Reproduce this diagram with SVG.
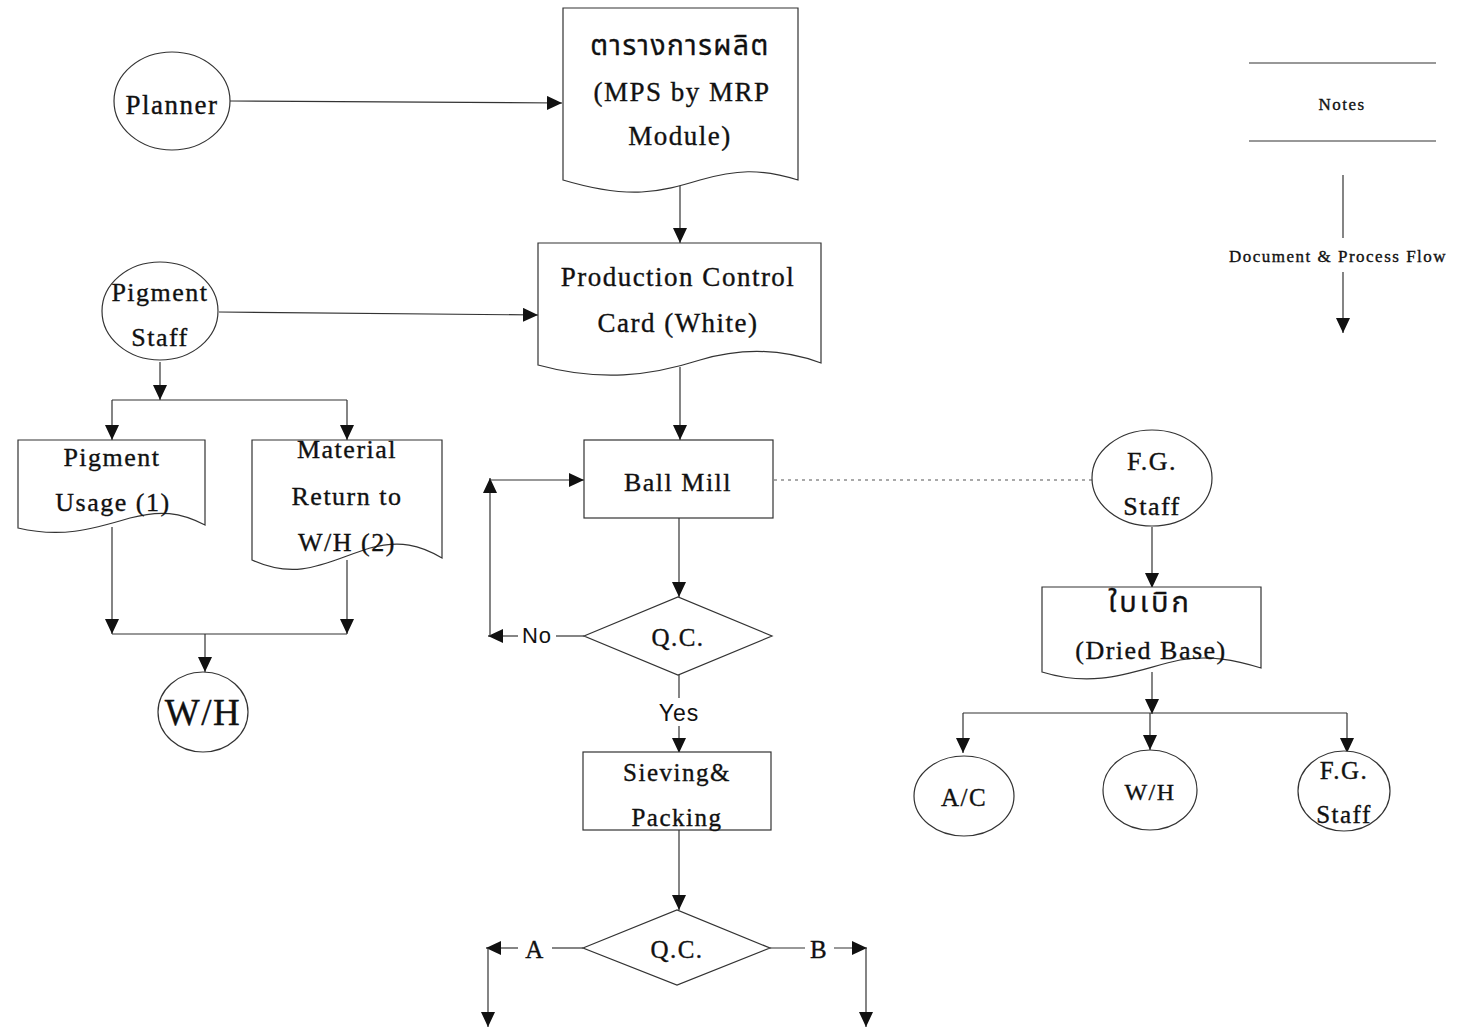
<svg xmlns="http://www.w3.org/2000/svg" width="1463" height="1030" viewBox="0 0 1463 1030">
  <style>
    .shape { fill: #ffffff; stroke: #333333; stroke-width: 1.2; }
    .line { fill: none; stroke: #333333; stroke-width: 1.2; }
    .dot { fill: none; stroke: #555555; stroke-width: 1.1; stroke-dasharray: 3 4; }
    .t { font-family: "Liberation Serif", "Times New Roman", serif; fill: #111111; stroke: #111111; stroke-width: 0.35; text-anchor: middle; letter-spacing: 1.5px; }
    .th { font-family: "Liberation Serif", "Noto Sans Thai", "Noto Serif Thai", "DejaVu Sans", serif; fill: #111111; stroke: #111111; stroke-width: 0.3; text-anchor: middle; }
    .s { font-family: "Liberation Sans", Arial, sans-serif; fill: #111111; text-anchor: middle; }
  </style>
  <defs>
    <marker id="arr" markerWidth="16" markerHeight="14" refX="15" refY="7" orient="auto" markerUnits="userSpaceOnUse">
      <path d="M0,0 L15,7 L0,14 Z" fill="#111111"/>
    </marker>
  </defs>
  <rect width="1463" height="1030" fill="#ffffff"/>

  <!-- connectors -->
  <g id="connectors">
    <line class="line" x1="230" y1="101" x2="562" y2="103" marker-end="url(#arr)"/>
    <line class="line" x1="680" y1="182" x2="680" y2="243" marker-end="url(#arr)"/>
    <line class="line" x1="219" y1="312" x2="538" y2="315" marker-end="url(#arr)"/>
    <line class="line" x1="160" y1="362" x2="160" y2="400" marker-end="url(#arr)"/>
    <line class="line" x1="112" y1="400" x2="347" y2="400"/>
    <line class="line" x1="112" y1="400" x2="112" y2="440" marker-end="url(#arr)"/>
    <line class="line" x1="347" y1="400" x2="347" y2="440" marker-end="url(#arr)"/>
    <line class="line" x1="112" y1="527" x2="112" y2="634" marker-end="url(#arr)"/>
    <line class="line" x1="347" y1="560" x2="347" y2="634" marker-end="url(#arr)"/>
    <line class="line" x1="112" y1="634" x2="347" y2="634"/>
    <line class="line" x1="205" y1="634" x2="205" y2="672" marker-end="url(#arr)"/>
    <line class="line" x1="680" y1="367" x2="680" y2="440" marker-end="url(#arr)"/>
    <line class="dot" x1="774" y1="480" x2="1093" y2="480"/>
    <line class="line" x1="679" y1="518" x2="679" y2="597" marker-end="url(#arr)"/>
    <!-- QC reject loop -->
    <line class="line" x1="584" y1="636" x2="556" y2="636"/>
    <line class="line" x1="518" y1="636" x2="488" y2="636" marker-end="url(#arr)"/>
    <line class="line" x1="490" y1="636" x2="490" y2="478" marker-end="url(#arr)"/>
    <line class="line" x1="490" y1="480" x2="584" y2="480" marker-end="url(#arr)"/>
    <text class="s" x="537" y="643" font-size="22" letter-spacing="1">No</text>
    <!-- QC accept -->
    <line class="line" x1="679" y1="674" x2="679" y2="698"/>
    <line class="line" x1="679" y1="726" x2="679" y2="753" marker-end="url(#arr)"/>
    <text class="s" x="679" y="721" font-size="23" letter-spacing="1">Yes</text>
    <line class="line" x1="679" y1="830" x2="679" y2="910" marker-end="url(#arr)"/>
    <!-- final QC branches -->
    <line class="line" x1="583" y1="948" x2="552" y2="948"/>
    <line class="line" x1="518" y1="948" x2="486" y2="948" marker-end="url(#arr)"/>
    <line class="line" x1="488" y1="948" x2="488" y2="1027" marker-end="url(#arr)"/>
    <text class="t" x="535" y="958" font-size="25">A</text>
    <line class="line" x1="770" y1="948" x2="805" y2="948"/>
    <line class="line" x1="834" y1="948" x2="867" y2="948" marker-end="url(#arr)"/>
    <line class="line" x1="866" y1="948" x2="866" y2="1027" marker-end="url(#arr)"/>
    <text class="t" x="819" y="958" font-size="25">B</text>
    <!-- finished goods branch -->
    <line class="line" x1="1152" y1="527" x2="1152" y2="588" marker-end="url(#arr)"/>
    <line class="line" x1="1152" y1="672" x2="1152" y2="714" marker-end="url(#arr)"/>
    <line class="line" x1="963" y1="713" x2="1347" y2="713"/>
    <line class="line" x1="963" y1="713" x2="963" y2="753" marker-end="url(#arr)"/>
    <line class="line" x1="1150" y1="713" x2="1150" y2="750" marker-end="url(#arr)"/>
    <line class="line" x1="1347" y1="713" x2="1347" y2="753" marker-end="url(#arr)"/>
  </g>

  <!-- actors -->
  <g id="planner">
    <ellipse class="shape" cx="172" cy="101" rx="58" ry="49"/>
    <text class="t" x="172" y="114" font-size="27">Planner</text>
  </g>
  <g id="pigment-staff">
    <ellipse class="shape" cx="160" cy="311" rx="58" ry="49"/>
    <text class="t" x="160" y="301" font-size="26" letter-spacing="2">Pigment</text>
    <text class="t" x="160" y="346" font-size="26" letter-spacing="2">Staff</text>
  </g>
  <g id="wh-left">
    <ellipse class="shape" cx="203" cy="712" rx="45" ry="40"/>
    <text class="t" x="203" y="725" font-size="37" letter-spacing="3">W/H</text>
  </g>
  <g id="fg-staff">
    <ellipse class="shape" cx="1152" cy="478" rx="60" ry="48"/>
    <text class="t" x="1152" y="470" font-size="26" letter-spacing="2.5">F.G.</text>
    <text class="t" x="1152" y="515" font-size="26" letter-spacing="2.5">Staff</text>
  </g>
  <g id="ac">
    <ellipse class="shape" cx="964" cy="796" rx="50" ry="40"/>
    <text class="t" x="964" y="806" font-size="25" letter-spacing="3">A/C</text>
  </g>
  <g id="wh-right">
    <ellipse class="shape" cx="1150" cy="790" rx="47" ry="40"/>
    <text class="t" x="1150" y="800" font-size="24" letter-spacing="4">W/H</text>
  </g>
  <g id="fg-staff-2">
    <ellipse class="shape" cx="1344" cy="791" rx="46" ry="40"/>
    <text class="t" x="1344" y="779" font-size="25" letter-spacing="2">F.G.</text>
    <text class="t" x="1344" y="823" font-size="25" letter-spacing="2">Staff</text>
  </g>

  <!-- documents -->
  <g id="mps-doc">
    <path class="shape" d="M563,8 L798,8 L798,180 C760,168 735,170 700,180 C660,192 630,200 563,180 Z"/>
    <text class="th" x="680" y="55" font-size="28" letter-spacing="1.5">ตารางการผลิต</text>
    <text class="t" x="682" y="101" font-size="27">(MPS by MRP</text>
    <text class="t" x="680" y="145" font-size="27">Module)</text>
  </g>
  <g id="control-card">
    <path class="shape" d="M538,243 L821,243 L821,363 C780,348 740,348 700,360 C650,376 600,382 538,365 Z"/>
    <text class="t" x="678" y="286" font-size="27">Production Control</text>
    <text class="t" x="678" y="332" font-size="27">Card (White)</text>
  </g>
  <g id="pigment-usage">
    <path class="shape" d="M18,440 L205,440 L205,525 C180,512 160,510 130,518 C90,530 60,538 18,528 Z"/>
    <text class="t" x="112" y="466" font-size="26" letter-spacing="2">Pigment</text>
    <text class="t" x="113" y="511" font-size="26" letter-spacing="2">Usage (1)</text>
  </g>
  <g id="material-return">
    <path class="shape" d="M252,440 L442,440 L442,558 C420,545 400,540 370,548 C330,560 300,582 252,560 Z"/>
    <text class="t" x="347" y="458" font-size="26" letter-spacing="2">Material</text>
    <text class="t" x="347" y="505" font-size="26" letter-spacing="2">Return to</text>
    <text class="t" x="347" y="551" font-size="26" letter-spacing="2">W/H (2)</text>
  </g>
  <g id="dried-base-doc">
    <path class="shape" d="M1042,587 L1261,587 L1261,668 C1235,660 1210,655 1180,660 C1140,668 1100,690 1042,672 Z"/>
    <text class="th" x="1150" y="612" font-size="29" letter-spacing="3">ใบเบิก</text>
    <text class="t" x="1151" y="659" font-size="26" letter-spacing="2.5">(Dried Base)</text>
  </g>

  <!-- processes -->
  <g id="ball-mill">
    <rect class="shape" x="584" y="440" width="189" height="78"/>
    <text class="t" x="678" y="491" font-size="26">Ball Mill</text>
  </g>
  <g id="qc-1">
    <polygon class="shape" points="584,636 678,597 772,636 678,675"/>
    <text class="t" x="678" y="646" font-size="25" letter-spacing="3">Q.C.</text>
  </g>
  <g id="sieving">
    <rect class="shape" x="583" y="752" width="188" height="78"/>
    <text class="t" x="677" y="781" font-size="25" letter-spacing="2.5">Sieving&amp;</text>
    <text class="t" x="677" y="826" font-size="25" letter-spacing="2.5">Packing</text>
  </g>
  <g id="qc-2">
    <polygon class="shape" points="583,948 677,910 770,948 677,985"/>
    <text class="t" x="677" y="958" font-size="25" letter-spacing="3">Q.C.</text>
  </g>

  <!-- key -->
  <g id="legend">
    <line class="line" x1="1249" y1="63" x2="1436" y2="63"/>
    <line class="line" x1="1249" y1="141" x2="1436" y2="141"/>
    <text class="t" x="1342" y="110" font-size="17" stroke-width="0.2">Notes</text>
    <line class="line" x1="1343" y1="175" x2="1343" y2="238"/>
    <text class="t" x="1338" y="262" font-size="17" letter-spacing="3.2" stroke-width="0.2">Document &amp; Process Flow</text>
    <line class="line" x1="1343" y1="272" x2="1343" y2="333" marker-end="url(#arr)"/>
  </g>
</svg>
